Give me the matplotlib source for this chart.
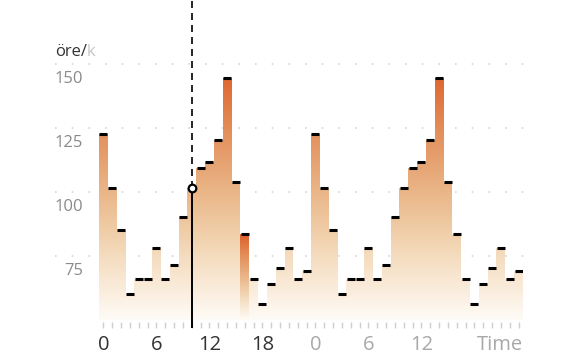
import numpy as np
import matplotlib.pyplot as plt
from matplotlib.colors import LinearSegmentedColormap
from matplotlib.path import Path
from matplotlib.patches import PathPatch

plt.rcParams['font.family'] = ['Open Sans', 'DejaVu Sans']

# spotpris per timme (öre/kWh), idag och imorgon
pris_idag = [122.8, 101.6, 85.2, 60.2, 66.1, 66.1, 78.0, 66.1, 71.4, 90.4, 101.7, 109.4,
             111.6, 120.4, 144.5, 103.8, 83.7, 66.1, 56.4, 64.1, 70.2, 78.0, 66.1, 69.1]
pris_imorgon = [122.8, 101.6, 85.2, 60.2, 66.1, 66.1, 78.0, 66.1, 71.4, 90.4, 101.6, 109.4,
                111.6, 120.4, 144.5, 103.8, 83.7, 66.1, 56.4, 64.1, 70.2, 78.0, 66.1, 69.1]
tick_timmar = [0, 6, 12, 18, 24, 30, 36]
tick_text = ["0", "6", "12", "18", "0", "6", "12"]
y_ticks = [75, 100, 125, 150]
nu_timme = 10
markerad_timme = 16

priser = np.array(pris_idag + pris_imorgon)
timmar = np.arange(len(priser))
BOTTEN = 50

fig = plt.figure(figsize=(5.76, 3.6), dpi=100)
ax = fig.add_axes([99 / 576, 40 / 360, 424 / 576, 320 / 360])
for s in ax.spines.values():
    s.set_visible(False)

# färgskala från ljus botten till mörk orange topp
cmap = LinearSegmentedColormap.from_list("pris", [
    (0.00, "#fefbf7"), (0.12, "#faecdb"), (0.25, "#f4dcbe"), (0.40, "#eec59c"),
    (0.50, "#eab688"), (0.62, "#e6a271"), (0.75, "#e38d58"), (0.95, "#de6733"),
    (1.00, "#dc612c")])


def stapel_path(idx):
    verts, codes = [], []
    for i in idx:
        x0, x1, y1 = i - 0.5, i + 0.5, priser[i]
        verts += [(x0, BOTTEN), (x0, y1), (x1, y1), (x1, BOTTEN), (x0, BOTTEN)]
        codes += [Path.MOVETO, Path.LINETO, Path.LINETO, Path.LINETO, Path.CLOSEPOLY]
    return Path(verts, codes)


grad = np.linspace(0, 1, 256).reshape(-1, 1)

vanliga = [i for i in timmar if i != markerad_timme]
klipp = PathPatch(stapel_path(vanliga), facecolor="none", edgecolor="none")
ax.add_patch(klipp)
im = ax.imshow(grad, extent=(-0.5, 47.5, BOTTEN, 150), origin="lower",
               aspect="auto", cmap=cmap, zorder=2)
im.set_clip_path(klipp)

# den markerade timmen får hela skalan i sin egen höjd
klipp2 = PathPatch(stapel_path([markerad_timme]), facecolor="none", edgecolor="none")
ax.add_patch(klipp2)
im2 = ax.imshow(np.linspace(0.08, 0.97, 256).reshape(-1, 1),
                extent=(markerad_timme - 0.5, markerad_timme + 0.5, BOTTEN, priser[markerad_timme]),
                origin="lower", aspect="auto", cmap=cmap, zorder=2)
im2.set_clip_path(klipp2)

# svarta toppstreck
mask = timmar != nu_timme
ax.hlines(priser[mask], timmar[mask] - 0.45, timmar[mask] + 0.45,
          color="black", lw=2.2, zorder=4)

ax.set_xlim(-0.5, 47.5)
ax.set_ylim(BOTTEN, 175)

# rutnät och y-etiketter
for v in y_ticks:
    ax.plot([-0.104, 1.01], [v, v], transform=ax.get_yaxis_transform(),
            ls=(0, (1, 9)), lw=1.2, color="#d6d6d6", clip_on=False, zorder=1)
    ax.text(-0.038, v - 5.9, str(v), transform=ax.get_yaxis_transform(),
            ha="right", va="center", fontsize=12, color="#8a8a8a")
ax.set_yticks([])

# små timstreck under staplarna
ax.vlines(timmar, 46.9, 49.2, color="#cfcfcf", lw=1, clip_on=False)

# nu-linje
ax.vlines(nu_timme, priser[nu_timme], 175, color="black", lw=1.2,
          linestyles=(0, (4.2, 3)), clip_on=False, zorder=5)
ax.vlines(nu_timme, 46.9, priser[nu_timme], color="black", lw=1.4,
          clip_on=False, zorder=5)
ax.plot(nu_timme, priser[nu_timme], "o", ms=5.5, mfc="white", mec="black",
        mew=1.6, zorder=6, clip_on=False)

# x-etiketter
ax.set_xticks(tick_timmar, tick_text)
ax.tick_params(axis="x", length=0, pad=11, labelsize=14.5)
for i, lab in enumerate(ax.get_xticklabels()):
    lab.set_color("#333333" if tick_timmar[i] < 24 else "#a8a8a8")
ax.annotate("Time", xy=(1, 0), xycoords="axes fraction", xytext=(0, -11),
            textcoords="offset points", ha="right", va="top", fontsize=14.5,
            color="#a8a8a8")

# enhet, avklippt
t = fig.text(55 / 576, 1 - 52 / 360, "öre/", ha="left", va="center",
             fontsize=12, color="#333333")
ax.annotate("k", xy=(1, 0), xycoords=t, ha="left", va="bottom",
            fontsize=12, color="#c4c4c4")

fig.savefig("out.png", dpi=100)
